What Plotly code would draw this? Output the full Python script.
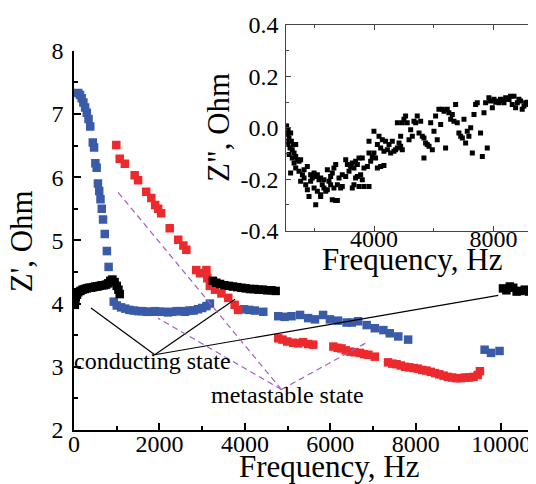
import plotly.graph_objects as go

# ---------------- main plot data: Z' (Ohm) vs frequency (Hz) ----------------
blue_f1 = [100, 140, 180, 220, 260, 300, 340, 380, 440, 470, 500, 530, 560, 590, 620, 650, 680, 720, 770, 810]
blue_z1 = [7.33, 7.30, 7.25, 7.18, 7.10, 7.02, 6.92, 6.80, 6.55, 6.47, 6.22, 6.15, 5.90, 5.78, 5.65, 5.50, 5.33, 5.10, 4.83, 4.58]
blue_f2 = [930, 1000, 1100, 1200, 1300, 1400, 1500, 1600, 1700, 1800, 1900, 2000, 2100, 2200, 2300, 2400, 2500, 2600, 2700, 2800, 2900, 3000, 3100, 3180]
blue_z2 = [4.03, 3.97, 3.94, 3.92, 3.90, 3.89, 3.88, 3.88, 3.87, 3.87, 3.88, 3.87, 3.87, 3.86, 3.87, 3.88, 3.88, 3.87, 3.89, 3.89, 3.91, 3.93, 3.96, 4.00]
blue_f3 = [3980, 4100, 4230, 4430, 4780, 4930, 5090, 5290, 5480, 5640, 5830, 5990, 6180, 6380, 6500, 6650, 6850, 7040, 7240, 7390, 7590, 7820]
blue_z3 = [3.91, 3.90, 3.89, 3.87, 3.80, 3.79, 3.80, 3.82, 3.77, 3.75, 3.82, 3.75, 3.73, 3.70, 3.70, 3.72, 3.66, 3.61, 3.58, 3.53, 3.48, 3.43]
blue_f4 = [9610, 9760, 9960]
blue_z4 = [3.27, 3.22, 3.25]

red_f1 = [990, 1070, 1190, 1420, 1500, 1690, 1810, 1900, 1970, 2040, 2240, 2440, 2560, 2630, 2860, 2950, 3100, 3120, 3180, 3300, 3450, 3610, 3760, 3840]
red_z1 = [6.51, 6.29, 6.21, 6.03, 5.95, 5.77, 5.67, 5.56, 5.50, 5.43, 5.19, 5.01, 4.92, 4.85, 4.53, 4.48, 4.53, 4.40, 4.28, 4.22, 4.16, 4.09, 3.98, 3.90]
red_f2 = [4780, 4880, 4990, 5130, 5250, 5360, 5480, 5600]
red_z2 = [3.45, 3.43, 3.40, 3.38, 3.37, 3.39, 3.36, 3.35]
red_f3 = [6070, 6170, 6260, 6360, 6460, 6570, 6690, 6790, 6890, 7040]
red_z3 = [3.32, 3.30, 3.29, 3.26, 3.24, 3.23, 3.22, 3.20, 3.19, 3.16]
red_f4 = [7350, 7450, 7550, 7650, 7750, 7850, 7950, 8050, 8150, 8250, 8350, 8450, 8550, 8650, 8750, 8850, 8950, 9050, 9150, 9250, 9350, 9450, 9500]
red_z4 = [3.07, 3.05, 3.04, 3.02, 3.00, 2.99, 2.98, 2.97, 2.95, 2.94, 2.92, 2.90, 2.88, 2.86, 2.84, 2.83, 2.82, 2.82, 2.83, 2.83, 2.84, 2.87, 2.93]

black_f1 = [20, 30, 40, 70, 100, 150, 200, 250, 300, 350, 400, 450, 500, 550, 600, 650, 700, 750, 800, 850, 900, 950, 1000, 1040, 1070]
black_z1 = [3.98, 4.05, 4.10, 4.14, 4.18, 4.20, 4.22, 4.23, 4.24, 4.25, 4.25, 4.26, 4.27, 4.27, 4.28, 4.29, 4.29, 4.30, 4.32, 4.36, 4.38, 4.34, 4.28, 4.22, 4.15]
black_f2 = [3250, 3330, 3420, 3520, 3620, 3720, 3820, 3920, 4020, 4120, 4220, 4320, 4420, 4520, 4620, 4720]
black_z2 = [4.36, 4.33, 4.31, 4.29, 4.28, 4.27, 4.26, 4.25, 4.24, 4.23, 4.23, 4.22, 4.22, 4.21, 4.21, 4.20]
black_f3 = [10040, 10120, 10200, 10280, 10360, 10450, 10550, 10650, 10790, 10940]
black_z3 = [4.24, 4.21, 4.27, 4.25, 4.19, 4.20, 4.22, 4.19, 4.16, 4.19]

# ---------------- inset data: Z'' (Ohm) vs frequency (Hz) ----------------
inset_f = [1040, 1040, 1070, 1120, 1095, 1150, 1205, 1230, 1295, 1115, 1185, 1260, 1320, 1070, 1375, 1150, 1260,
           1375, 1430, 1320, 1485, 1540, 1205, 1375, 1485, 1600, 1655, 1540, 1710, 1765, 1820, 1655, 1765, 1875,
           1930, 1990, 2045, 2100, 2155, 2210, 2265, 2320, 2380, 2435, 1875, 1990, 2100, 2210, 2045, 2210, 2320,
           2490, 2545, 2600, 2435, 2655, 2715, 2545, 2655, 2770, 2880, 2935, 2600, 2715, 2770,
           2825, 2935, 3050, 3050, 3105, 3160, 3215, 3270, 3325, 3380, 3440, 3380, 3440, 3550, 3605, 3270, 3325,
           3495, 3660, 3830, 3495, 3605, 3660, 3775, 3885, 3830, 3940, 3995, 4050, 4110, 4220, 4330, 3830, 3995,
           4110, 4165, 4220, 4275, 4330, 4385, 4445, 4500, 4555, 4610, 4665, 4720, 4780, 4835, 4890, 4945, 4780,
           4890, 4945, 5000, 5055, 5110, 5170, 5225, 5280, 5335, 5390, 5445, 5505, 5560, 5615, 5670, 5670, 5725,
           5780, 5840, 5895, 5950, 6005, 6060, 6115, 6170, 6230, 6285, 6340, 6395, 6450, 6505, 6565, 6620, 6675,
           6730, 6785, 6840, 6900, 6955, 7010, 7065, 7120, 7175, 7235, 7290, 7345, 7400, 7455, 7565, 7625, 7680,
           7735, 7790, 7845, 7900, 7960, 8015, 8070, 8125, 8180, 8235, 8290, 8350, 8405, 8460, 8520, 8570, 8625,
           8685, 8740, 8795, 8850, 8905, 8960, 9020, 9075, 9130, 9185, 9240, 9300, 9355, 9410, 9465, 9520, 9575, 9640]
inset_z = [0.007, -0.020, 0.007, -0.007, -0.026, -0.039, -0.020, -0.052, -0.065, -0.065, -0.078, -0.085, -0.098, -0.052, -0.065, -0.104, -0.117,
           -0.111, -0.124, -0.137, -0.130, -0.124, -0.176, -0.156, -0.169, -0.182, -0.195, -0.208, -0.221, -0.241, -0.267, -0.163, -0.150, -0.182,
           -0.195, -0.176, -0.189, -0.182, -0.202, -0.195, -0.221, -0.234, -0.247, -0.241, -0.208, -0.234, -0.247, -0.260, -0.299, -0.267, -0.202,
           -0.208, -0.189, -0.176, -0.163, -0.156, -0.143, -0.221, -0.234, -0.221, -0.234, -0.228, -0.280, -0.283, -0.283,
           -0.195, -0.182, -0.189, -0.124, -0.143, -0.169, -0.150, -0.137, -0.156, -0.130, -0.143, -0.195, -0.189, -0.182, -0.202, -0.234, -0.221,
           -0.228, -0.228, -0.228, -0.117, -0.117, -0.156, -0.150, -0.130, -0.098, -0.111, -0.098, -0.117, -0.156, -0.150, -0.146, -0.052, -0.013,
           -0.065, -0.033, -0.078, -0.046, -0.091, -0.052, -0.085, -0.065, -0.098, -0.052, -0.091, -0.085, -0.078, -0.059, -0.072, -0.085, 0.020,
           -0.033, 0.020, 0.033, 0.046, 0.020, -0.046, -0.007, -0.033, 0.026, 0.020, 0.046, -0.020, 0.026, -0.033, -0.039, -0.117, -0.059,
           -0.065, -0.072, 0.020, -0.085, -0.013, 0.046, -0.046, 0.072, 0.013, 0.072, 0.065, -0.078, 0.072, 0.059, 0.033, 0.052, 0.026,
           0.091, 0.020, -0.020, -0.033, -0.039, 0.033, -0.059, -0.013, -0.033, 0.000, -0.098, 0.052, 0.091, 0.098, -0.020, -0.111, 0.059,
           0.098, -0.078, 0.117, 0.104, 0.078, 0.111, 0.100, 0.104, 0.098, 0.111, 0.105, 0.098, 0.117, 0.111, 0.110, 0.123, 0.091,
           0.123, 0.078, 0.098, 0.111, 0.104, 0.072, 0.085, 0.098, 0.100, 0.091, 0.095, 0.117, 0.111, 0.110, 0.104, 0.090, 0.098, 0.100]

# tick labels
main_x_ticks = [0, 2000, 4000, 6000, 8000, 10000]
main_x_ticktext = ["0", "2000", "4000", "6000", "8000", "10000"]
main_y_ticks = [2, 3, 4, 5, 6, 7, 8]
inset_x_ticks = [4000, 8000]
inset_x_ticktext = ["4000", "8000"]
inset_y_ticks = [-0.4, -0.2, 0.0, 0.2, 0.4]
inset_y_ticktext = ["-0.4", "-0.2", "0.0", "0.2", "0.4"]

# annotation pointers (data coordinates)
conducting_hub = (1890, 3.19)
conducting_targets = [(398, 3.93), (3770, 4.07), (9930, 4.13)]
metastable_hub = (4855, 2.64)
metastable_targets = [(1007, 5.78), (1967, 3.77), (6815, 3.37)]

BLUE = "#3a5ba8"
RED = "#ec2a2e"
BLACK = "#000000"
PURPLE = "#a45cc0"
FONT = "Liberation Serif, Times New Roman, DejaVu Serif, serif"
TICK_SIZE = 24

fig = go.Figure()

def add_series(fs, zs, color, size=8.5):
    xs, ys = [], []
    for f, z in zip(fs, zs):
        xs += f
        ys += z
    fig.add_trace(go.Scatter(x=xs, y=ys, mode="markers",
                             marker=dict(symbol="square", size=size, color=color, line=dict(width=0)),
                             showlegend=False, xaxis="x", yaxis="y"))

add_series([blue_f1, blue_f2, blue_f3, blue_f4], [blue_z1, blue_z2, blue_z3, blue_z4], BLUE)
add_series([red_f1, red_f2, red_f3, red_f4], [red_z1, red_z2, red_z3, red_z4], RED)
add_series([black_f1, black_f2, black_f3], [black_z1, black_z2, black_z3], BLACK)

fig.add_trace(go.Scatter(x=inset_f, y=inset_z, mode="markers",
                         marker=dict(symbol="square", size=5, color=BLACK, line=dict(width=0)),
                         showlegend=False, xaxis="x2", yaxis="y2"))

shapes = []
for tx, ty in conducting_targets:
    shapes.append(dict(type="line", xref="x", yref="y", x0=conducting_hub[0], y0=conducting_hub[1],
                       x1=tx, y1=ty, line=dict(color="black", width=1.2)))
for tx, ty in metastable_targets:
    shapes.append(dict(type="line", xref="x", yref="y", x0=metastable_hub[0], y0=metastable_hub[1],
                       x1=tx, y1=ty, line=dict(color=PURPLE, width=1.2, dash="6px,4px")))

title_font = dict(family=FONT, size=31, color="black")
annotations = [
    dict(text="conducting state", x=1840, y=3.09, xref="x", yref="y", showarrow=False,
         font=dict(family=FONT, size=24, color="black")),
    dict(text="metastable state", x=4990, y=2.56, xref="x", yref="y", showarrow=False,
         font=dict(family=FONT, size=24, color="black")),
    # axis titles
    dict(text="Frequency, Hz", x=0.5415, y=-0.091, xref="paper", yref="paper", showarrow=False,
         xanchor="center", yanchor="middle", font=title_font),
    dict(text="Z', Ohm", x=-0.11, y=0.4667, xref="paper", yref="paper", showarrow=False, textangle=-90,
         xanchor="center", yanchor="middle", font=title_font),
    dict(text="Frequency, Hz", x=0.719, y=0.422, xref="paper", yref="paper", showarrow=False,
         xanchor="center", yanchor="middle", font=title_font),
    dict(text='Z", Ohm', x=0.306, y=0.748, xref="paper", yref="paper", showarrow=False, textangle=-90,
         xanchor="center", yanchor="middle", font=title_font),
]

axis_common = dict(showgrid=False, zeroline=False, showline=True, ticks="inside",
                   tickfont=dict(family=FONT, size=TICK_SIZE, color="black"))

fig.update_layout(
    width=536, height=484,
    margin=dict(l=66, r=0, t=17, b=62),
    paper_bgcolor="white", plot_bgcolor="white",
    font=dict(family=FONT, color="black"),
    xaxis=dict(axis_common, domain=[0, 1], range=[0, 11000], anchor="y",
               linecolor="black", linewidth=1.5, tickcolor="black", tickwidth=1.5, ticklen=7,
               tickmode="array", tickvals=main_x_ticks, ticktext=main_x_ticktext, ticklabelstandoff=-9,
               minor=dict(dtick=1000, tick0=0, ticks="inside", ticklen=4, tickcolor="black", tickwidth=1.5)),
    yaxis=dict(axis_common, domain=[0, 0.9365], range=[2, 8], anchor="x",
               linecolor="black", linewidth=1.5, tickcolor="black", tickwidth=1.5, ticklen=7,
               tickmode="array", tickvals=main_y_ticks, ticklabelstandoff=4,
               minor=dict(dtick=0.5, tick0=2, ticks="inside", ticklen=4, tickcolor="black", tickwidth=1.5)),
    xaxis2=dict(axis_common, domain=[0.4517, 1], range=[1060, 9690], anchor="y2", mirror="allticks",
                linecolor="#444444", linewidth=1, tickcolor="#444444", tickwidth=1, ticklen=5,
                tickmode="array", tickvals=inset_x_ticks, ticktext=inset_x_ticktext, ticklabelstandoff=-13,
                minor=dict(tickmode="array", tickvals=[2000, 6000], ticks="inside", ticklen=3, tickcolor="#444444")),
    yaxis2=dict(axis_common, domain=[0.4921, 1.0], range=[-0.4, 0.4], anchor="x2",
                linecolor="#444444", linewidth=1, tickcolor="#444444", tickwidth=1, ticklen=5,
                tickmode="array", tickvals=inset_y_ticks, ticktext=inset_y_ticktext, ticklabelstandoff=2,
                minor=dict(tickmode="array", tickvals=[-0.3, -0.1, 0.1, 0.3], ticks="inside", ticklen=3, tickcolor="#444444")),
    shapes=shapes,
    annotations=annotations,
)

fig.write_html("out.html")
